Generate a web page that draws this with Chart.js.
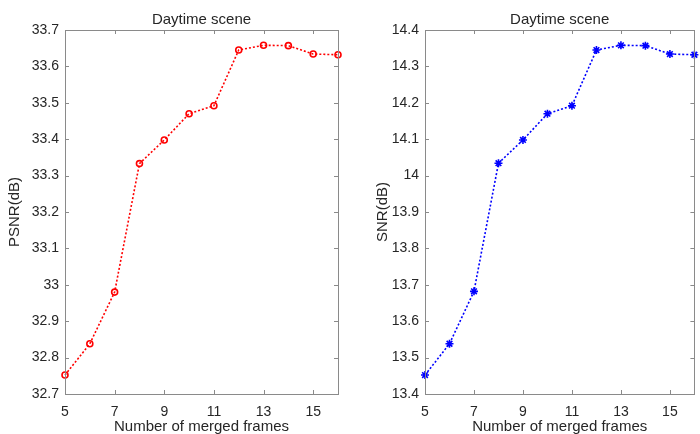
<!DOCTYPE html>
<html>
<head>
<meta charset="utf-8">
<script src="https://cdn.jsdelivr.net/npm/chart.js@4.4.1/dist/chart.umd.min.js"></script>
<style>
  html, body { margin: 0; padding: 0; background: #fff; }
  .panel { position: absolute; top: 0; height: 434px; }
  #leftBox { left: 0; width: 345px; }
  #rightBox { left: 355px; width: 345px; }
</style>
</head>
<body>
<div class="panel" id="leftBox"><canvas id="psnrChart"></canvas></div>
<div class="panel" id="rightBox"><canvas id="snrChart"></canvas></div>
<script>
const frames = [5, 6, 7, 8, 9, 10, 11, 12, 13, 14, 15, 16];
const xTicks = [5, 7, 9, 11, 13, 15];
const psnr = [32.752, 32.838, 32.980, 33.333, 33.398, 33.470, 33.492, 33.645, 33.658, 33.657, 33.634, 33.632];
const snr = [13.452, 13.538, 13.682, 14.034, 14.098, 14.170, 14.192, 14.345, 14.358, 14.357, 14.334, 14.332];
const chartTitle = 'Daytime scene';
const xTitle = 'Number of merged frames';

const FONT = "'Liberation Sans', Arial, sans-serif";
const AXIS_GREY = '#8a8a8a';
const TEXT = '#262626';

// matlab style box with inward ticks
const boxTicks = {
  id: 'boxTicks',
  afterDraw(chart) {
    const {ctx, chartArea: a, scales} = chart;
    const len = 4;
    ctx.save();
    ctx.strokeStyle = AXIS_GREY;
    ctx.lineWidth = 1;
    ctx.strokeRect(Math.round(a.left) + 0.5, Math.round(a.top) + 0.5,
      Math.round(a.right - a.left), Math.round(a.bottom - a.top));
    ctx.beginPath();
    scales.x.ticks.forEach(t => {
      const px = Math.round(scales.x.getPixelForValue(t.value)) + 0.5;
      ctx.moveTo(px, a.bottom); ctx.lineTo(px, a.bottom - len);
      ctx.moveTo(px, a.top); ctx.lineTo(px, a.top + len);
    });
    scales.y.ticks.forEach(t => {
      const py = Math.round(scales.y.getPixelForValue(t.value)) + 0.5;
      ctx.moveTo(a.left, py); ctx.lineTo(a.left + len, py);
      ctx.moveTo(a.right, py); ctx.lineTo(a.right - len, py);
    });
    ctx.stroke();
    ctx.restore();
  }
};

function makeChart(id, values, color, marker, yLabel, yMin, yMax, yWidth, padRight, yTitlePad) {
  return new Chart(id, {
    type: 'line',
    data: {
      labels: frames,
      datasets: [{
        data: frames.map((f, i) => ({x: f, y: values[i]})),
        borderColor: color,
        backgroundColor: color,
        borderWidth: 1.6,
        borderDash: [2, 2],
        pointStyle: marker,
        pointRadius: marker === 'circle' ? 3 : 4,
        pointBorderWidth: 1.6,
        pointBackgroundColor: marker === 'circle' ? 'rgba(0,0,0,0)' : color,
        pointBorderColor: color,
        tension: 0,
        fill: false,
        clip: false
      }]
    },
    options: {
      responsive: true,
      maintainAspectRatio: false,
      animation: false,
      layout: { padding: { right: padRight, left: 0, top: 0, bottom: 0 } },
      plugins: {
        legend: { display: false },
        tooltip: { enabled: false },
        title: {
          display: true,
          fullSize: false,
          text: chartTitle,
          color: TEXT,
          font: { family: FONT, size: 15, weight: 'normal' },
          padding: { top: 11, bottom: 1 }
        }
      },
      scales: {
        x: {
          type: 'linear',
          min: 5,
          max: 16,
          grid: { display: false },
          border: { display: false },
          afterFit: s => { s.height = 40; },
          afterBuildTicks: s => { s.ticks = xTicks.map(v => ({value: v})); },
          ticks: {
            maxRotation: 0,
            padding: 2,
            color: TEXT,
            font: { family: FONT, size: 14 }
          },
          title: {
            display: true,
            text: xTitle,
            color: TEXT,
            padding: { top: 0, bottom: 0 },
            font: { family: FONT, size: 15, lineHeight: 0.9 }
          }
        },
        y: {
          min: yMin,
          max: yMax,
          grid: { display: false, drawTicks: false },
          border: { display: false },
          afterFit: s => { s.width = yWidth; },
          ticks: {
            stepSize: 0.1,
            includeBounds: false,
            padding: 6,
            color: TEXT,
            font: { family: FONT, size: 14 },
            callback: v => String(Number(v.toFixed(1)))
          },
          title: {
            display: true,
            text: yLabel,
            color: TEXT,
            padding: { top: yTitlePad, bottom: 0 },
            font: { family: FONT, size: 15 }
          }
        }
      }
    },
    plugins: [boxTicks]
  });
}

makeChart('psnrChart', psnr, '#ff0000', 'circle', 'PSNR(dB)', 32.7, 33.7, 65, 7, 6);
makeChart('snrChart', snr, '#0000ff', 'star', 'SNR(dB)', 13.4, 14.4, 70, 2, 19);
</script>
</body>
</html>
